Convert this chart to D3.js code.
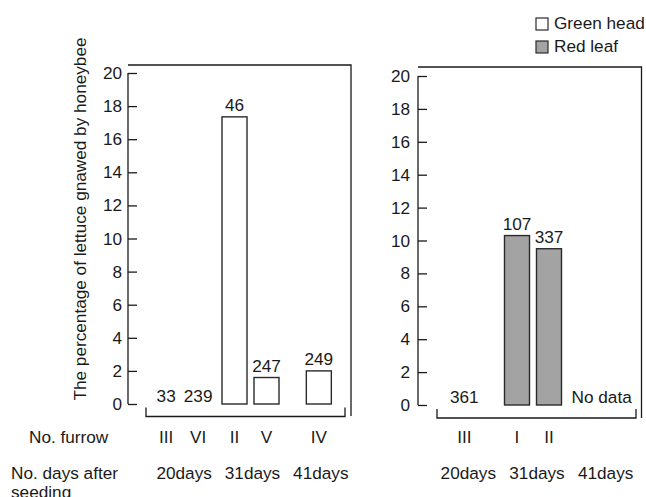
<!DOCTYPE html>
<html>
<head>
<meta charset="utf-8">
<script src="https://cdn.jsdelivr.net/npm/d3@7"></script>
<style>
  body { margin: 0; background: #fff; }
  svg text { font-family: "Liberation Sans", Arial, Helvetica, sans-serif; fill: #1a1a1a; }
</style>
</head>
<body>
<div id="chart"></div>
<script>
// data
const dayGroups = ["20days", "31days", "41days"];
const yTicks = [0, 2, 4, 6, 8, 10, 12, 14, 16, 18, 20];

const greenFurrow = ["III", "VI", "II", "V", "IV"];
const greenDays = ["20days", "20days", "31days", "31days", "41days"];
const greenValues = [0, 0, 17.35, 1.6, 2.0];
const greenCounts = ["33", "239", "46", "247", "249"];

const redFurrow = ["III", "I", "II"];
const redDays = ["20days", "31days", "31days"];
const redValues = [0, 10.3, 9.5];
const redCounts = ["361", "107", "337"];
const redMissing = ["41days"];

const legendNames = ["Green head", "Red leaf"];
const legendColors = ["#ffffff", "#a3a3a3"];

const W = 646, H = 497;
const svg = d3.select("#chart").append("svg")
  .attr("width", W)
  .attr("height", H);

const FS = 17.2;
const ink = "#1a1a1a";

// inner slot offsets when two bars share a day
const slot = d3.scaleBand().domain([0, 1]).range([-32, 32]);

function drawPanel(opt) {
  const y = d3.scaleLinear().domain([0, 20]).range([opt.y0, opt.y20]);
  const x = d3.scaleBand().domain(dayGroups).range(opt.xRange);

  const items = opt.furrow.map(function (f, i) {
    return { furrow: f, day: opt.days[i], value: opt.values[i], count: opt.counts[i], color: opt.color };
  });
  // position of each item inside its day group
  items.forEach(function (d) {
    const same = items.filter(function (e) { return e.day === d.day; });
    const k = same.indexOf(d);
    const center = x(d.day) + x.bandwidth() / 2;
    d.cx = same.length > 1 ? center + slot(k) + slot.bandwidth() / 2 : center;
  });

  const g = svg.append("g");

  // y axis (ticks inside)
  const axis = d3.axisLeft(y).tickValues(yTicks).tickSize(-9).tickPadding(opt.tickPad);
  const ga = g.append("g")
    .attr("transform", "translate(" + opt.axisX + ",0)")
    .call(axis);
  ga.select(".domain").attr("d", "M0," + y(20) + "V" + y(0)).attr("stroke", ink).attr("stroke-width", 1.3);
  ga.selectAll(".tick line").attr("stroke", ink).attr("stroke-width", 1.3);
  ga.selectAll(".tick text")
    .attr("font-size", FS)
    .attr("font-family", "Liberation Sans, Arial, sans-serif")
    .attr("fill", ink);

  // frame: top line and right side
  g.append("path")
    .attr("d", "M" + opt.axisX + "," + opt.frameTop + "H" + opt.frameRight + "V" + opt.frameBottom)
    .attr("fill", "none")
    .attr("stroke", ink)
    .attr("stroke-width", 1.3);

  // bracket under the bars
  g.append("path")
    .attr("d", "M" + opt.bracket[0] + "," + (opt.bracketY - 9) + "V" + opt.bracketY +
      "H" + opt.bracket[1] + "V" + (opt.bracketY - 9))
    .attr("fill", "none")
    .attr("stroke", ink)
    .attr("stroke-width", 1.3);

  // bars
  g.selectAll(".bar")
    .data(items.filter(function (d) { return d.value > 0; }))
    .enter().append("rect")
    .attr("class", "bar")
    .attr("x", function (d) { return d.cx - 12.5; })
    .attr("width", 25)
    .attr("y", function (d) { return y(d.value); })
    .attr("height", function (d) { return y(0) - y(d.value); })
    .attr("fill", function (d) { return d.color; })
    .attr("stroke", "#2a2a2a")
    .attr("stroke-width", 1.4);

  // counts above bars
  g.selectAll(".count")
    .data(items)
    .enter().append("text")
    .attr("class", "count")
    .attr("x", function (d) { return d.cx; })
    .attr("y", function (d) { return d.value > 0 ? y(d.value) - 6 : y(0) - 2; })
    .attr("text-anchor", "middle")
    .attr("font-size", FS)
    .text(function (d) { return d.count; });

  // missing groups
  (opt.missing || []).forEach(function (m) {
    g.append("text")
      .attr("x", x(m) + x.bandwidth() / 2)
      .attr("y", y(0) - 2)
      .attr("text-anchor", "middle")
      .attr("font-size", FS)
      .text("No data");
  });

  // furrow labels
  g.selectAll(".furrow")
    .data(items)
    .enter().append("text")
    .attr("class", "furrow")
    .attr("x", function (d) { return d.cx; })
    .attr("y", 443)
    .attr("text-anchor", "middle")
    .attr("font-size", FS)
    .text(function (d) { return d.furrow; });

  // day labels
  g.selectAll(".day")
    .data(dayGroups)
    .enter().append("text")
    .attr("class", "day")
    .attr("x", function (d) { return x(d) + x.bandwidth() / 2 + opt.dayShift; })
    .attr("y", 478.5)
    .attr("text-anchor", "middle")
    .attr("font-size", FS)
    .text(function (d) { return d; });
}

drawPanel({
  furrow: greenFurrow, days: greenDays, values: greenValues, counts: greenCounts,
  color: legendColors[0],
  y0: 404, y20: 73, axisX: 128, xRange: [148, 353], tickPad: 6,
  frameTop: 65, frameRight: 351, frameBottom: 416,
  bracket: [146, 345], bracketY: 416.5, dayShift: 2
});

drawPanel({
  furrow: redFurrow, days: redDays, values: redValues, counts: redCounts,
  color: legendColors[1], missing: redMissing,
  y0: 405, y20: 76, axisX: 418, xRange: [430, 636], tickPad: 8,
  frameTop: 67, frameRight: 641.5, frameBottom: 418,
  bracket: [437, 636], bracketY: 418, dayShift: 4
});

// y axis title
svg.append("text")
  .attr("transform", "translate(86,219) rotate(-90)")
  .attr("text-anchor", "middle")
  .attr("font-size", FS)
  .text("The percentage of lettuce gnawed by honeybee");

// row titles
svg.append("text").attr("x", 29).attr("y", 443).attr("font-size", FS).text("No. furrow");
svg.append("text").attr("x", 11).attr("y", 478.5).attr("font-size", FS).text("No. days after");
svg.append("text").attr("x", 11).attr("y", 497.5).attr("font-size", FS).text("seeding");

// legend
const leg = svg.append("g").attr("transform", "translate(536,18)");
legendNames.forEach(function (name, i) {
  leg.append("rect")
    .attr("x", 0).attr("y", i * 23)
    .attr("width", 12).attr("height", 12)
    .attr("fill", legendColors[i])
    .attr("stroke", "#2a2a2a")
    .attr("stroke-width", 1.2);
  leg.append("text")
    .attr("x", 18).attr("y", i * 23 + 11)
    .attr("font-size", FS)
    .text(name);
});
</script>
</body>
</html>
